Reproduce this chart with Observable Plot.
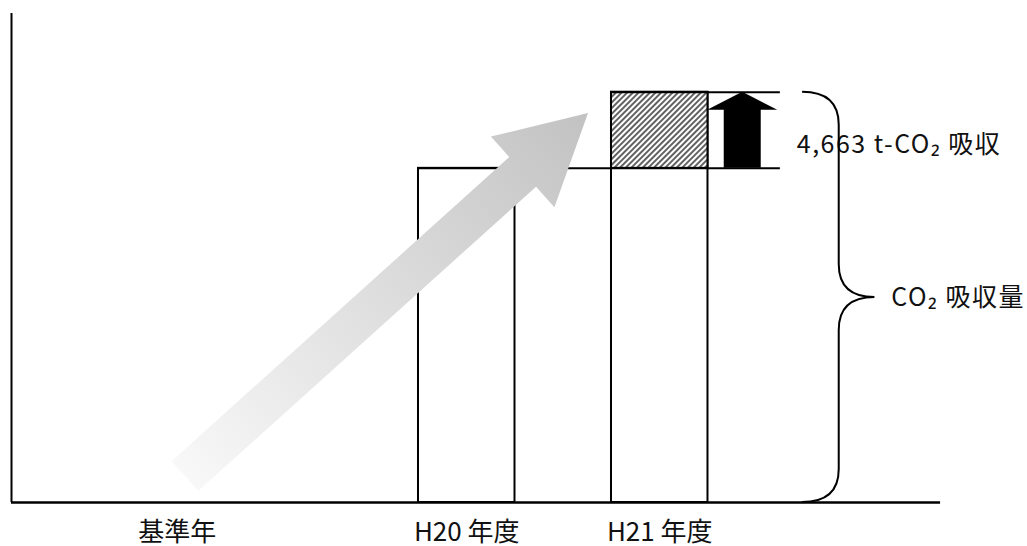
<!DOCTYPE html>
<html><head><meta charset="utf-8">
<script src="https://cdn.jsdelivr.net/npm/d3@7"></script>
<script src="https://cdn.jsdelivr.net/npm/@observablehq/plot@0.6"></script>
<style>body{margin:0;background:#fff} svg{display:block}</style>
</head><body><div id="chart"></div>
<script>
// ---- data ----
const categories = ["基準年", "H20 年度", "H21 年度"];
const barYears = ["H20 年度", "H21 年度"];
const barValues = [20500, 25163];            // estimated CO2 absorption (t-CO2)
const incrementValue = 4663;                 // H21 - H20
const incrementLabel = "4,663 t-CO₂ 吸収";
const braceLabel = "CO₂ 吸収量";
const yMax = 30000;

// ---- layout (x in slot units, one slot = one bar width) ----
const slot = {"基準年": 1.5, "H20 年度": 4.5, "H21 年度": 6.5};
const xDomain = [-0.2176, 10.311];
const axisEndX = 9.41;
const guideEndX = 7.75;
const blackArrowX = 7.36;
const braceX = 8.36, braceTipX = 8.73, braceEndX = 7.98;
const labelX = 7.92, braceLabelX = 8.9;
const grayArrow = {tail: [1.585, 1595], tip: [5.762, 23865]};

const bars = barYears.map((c, i) => ({cat: c, x1: slot[c] - 0.5, x2: slot[c] + 0.5, v: barValues[i]}));
const incBar = [{x1: slot["H21 年度"] - 0.5, x2: slot["H21 年度"] + 0.5, y1: barValues[0], y2: barValues[1]}];

function defsMark() {
  const g = d3.create("svg:g");
  const defs = g.append("defs");
  const p = defs.append("pattern").attr("id", "hatch").attr("patternUnits", "userSpaceOnUse")
    .attr("width", 4).attr("height", 4).attr("patternTransform", "rotate(45)");
  p.append("rect").attr("width", 4).attr("height", 4).attr("fill", "#fff");
  p.append("line").attr("x1", 1).attr("y1", 0).attr("x2", 1).attr("y2", 4)
    .attr("stroke", "#3a3a3a").attr("stroke-width", 1.6);
  return g.node();
}

function grayArrowMark(index, scales) {
  const {x, y} = scales;
  const t = [x(grayArrow.tail[0]), y(grayArrow.tail[1])];
  const h = [x(grayArrow.tip[0]), y(grayArrow.tip[1])];
  const dx = h[0] - t[0], dy = h[1] - t[1], L = Math.hypot(dx, dy);
  const u = [dx / L, dy / L], n = [-u[1], u[0]];
  const sw = 20, hw = 47.5, hl = 88;
  const b = [h[0] - u[0] * hl, h[1] - u[1] * hl];
  const P = (c, k) => [c[0] + n[0] * k, c[1] + n[1] * k];
  const pts = [P(t, sw), P(b, sw), P(b, hw), h, P(b, -hw), P(b, -sw), P(t, -sw)];
  const g = d3.create("svg:g");
  const lg = g.append("defs").append("linearGradient").attr("id", "grayGrad")
    .attr("gradientUnits", "userSpaceOnUse")
    .attr("x1", t[0]).attr("y1", t[1]).attr("x2", h[0]).attr("y2", h[1]);
  lg.append("stop").attr("offset", 0).attr("stop-color", "#f8f8f8");
  lg.append("stop").attr("offset", 1).attr("stop-color", "#c2c2c2");
  g.append("path").attr("d", "M" + pts.map(p => p.join(",")).join("L") + "Z").attr("fill", "url(#grayGrad)");
  return g.node();
}

function blackArrowMark(index, scales) {
  const {x, y} = scales;
  const cx = x(blackArrowX), yb = y(barValues[0]), yt = y(barValues[1]);
  const sw = 18.5, hw = 35, hh = 18;
  const pts = [[cx - sw, yb], [cx - sw, yt + hh], [cx - hw, yt + hh], [cx, yt], [cx + hw, yt + hh], [cx + sw, yt + hh], [cx + sw, yb]];
  const g = d3.create("svg:g");
  g.append("path").attr("d", "M" + pts.map(p => p.join(",")).join("L") + "Z").attr("fill", "#000");
  return g.node();
}

function braceMark(index, scales) {
  const {x, y} = scales;
  const xv = x(braceX), xt = x(braceTipX), xe = x(braceEndX);
  const yT = y(barValues[1]), yB = y(0), yM = (yT + yB) / 2, r = 33;
  const d = `M${xe},${yT} Q${xv},${yT} ${xv},${yT + r} L${xv},${yM - r} Q${xv},${yM} ${xt},${yM} Q${xv},${yM} ${xv},${yM + r} L${xv},${yB - r} Q${xv},${yB} ${xe},${yB}`;
  const g = d3.create("svg:g");
  g.append("path").attr("d", d).attr("fill", "none").attr("stroke", "#000").attr("stroke-width", 2);
  return g.node();
}

const font = "'Noto Sans CJK JP', 'Noto Sans', sans-serif";
const plot = Plot.plot({
  width: 1027, height: 546,
  marginLeft: 11, marginRight: 0, marginTop: 13, marginBottom: 44,
  x: {type: "linear", domain: xDomain, axis: null},
  y: {domain: [0, yMax], axis: null},
  style: {fontFamily: font, background: "#fff", overflow: "visible"},
  marks: [
    defsMark,
    Plot.rect(bars, {x1: "x1", x2: "x2", y1: 0, y2: "v", fill: "white", stroke: "black", strokeWidth: 2}),
    Plot.rect(incBar, {x1: "x1", x2: "x2", y1: "y1", y2: "y2", fill: "url(#hatch)", stroke: "black", strokeWidth: 2}),
    Plot.ruleY([barValues[0]], {x1: slot["H20 年度"] - 0.5, x2: guideEndX, strokeWidth: 2}),
    Plot.ruleY([barValues[1]], {x1: slot["H21 年度"] - 0.5, x2: guideEndX, strokeWidth: 2}),
    Plot.ruleX([xDomain[0]], {y1: 0, y2: yMax, strokeWidth: 2}),
    Plot.ruleY([0], {x1: xDomain[0], x2: axisEndX, strokeWidth: 2.5}),
    blackArrowMark,
    grayArrowMark,
    Plot.text(categories, {x: d => slot[d], y: 0, text: d => d, dy: 30, fontSize: 26, fill: "#111", style: "letter-spacing:1px"}),
    Plot.text([incrementLabel], {x: labelX, y: barValues[0] + incrementValue / 2, text: d => d, dy: 15, fontSize: 25, textAnchor: "start", fill: "#111"}),
    Plot.text([braceLabel], {x: braceLabelX, y: barValues[1] / 2, text: d => d, dy: 1, fontSize: 25, textAnchor: "start", fill: "#111"}),
    braceMark
  ]
});
d3.select(plot).selectAll("text").filter(function() { return this.textContent.includes("吸収"); })
  .attr("letter-spacing", "1.5px");
document.getElementById("chart").appendChild(plot);
</script>
</body></html>
